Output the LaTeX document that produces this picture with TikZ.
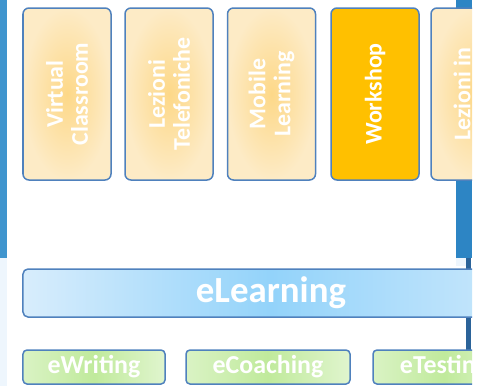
\documentclass[tikz,border=0pt]{standalone}
\usepackage{fontspec}
\setmainfont{Carlito}
\usepackage{xcolor}

\definecolor{frameblue}{HTML}{4F81BD}
\definecolor{stripblue}{HTML}{3F95CE}
\definecolor{stripdark}{HTML}{2D85C4}
\definecolor{scrollblue}{HTML}{2B6399}
\definecolor{paleblue}{HTML}{EEF6FD}
\definecolor{creamout}{HTML}{FDEBC6}
\definecolor{creamin}{HTML}{FDD888}
\definecolor{gold}{HTML}{FFC000}
\definecolor{skyedge}{HTML}{D8EDFC}
\definecolor{skymid}{HTML}{93D3FA}
\definecolor{leafedge}{HTML}{E0F5CE}
\definecolor{leafmid}{HTML}{C0EA9C}

\tikzset{
  coursebox/.style={draw=frameblue, line width=1.5bp, rounded corners=6bp,
    shading=radial, inner color=creamin, outer color=creamout,
    rotate=90, minimum width=172bp, minimum height=88bp, inner sep=0pt,
    text=white, align=center, font=\bfseries\fontsize{24}{25}\selectfont},
  goldbox/.style={coursebox, shading=axis, top color=gold, bottom color=gold},
  vlabel/.style={rotate=90, text=white, align=center, inner sep=0pt,
    font=\bfseries\fontsize{24}{25}\selectfont},
  barbox/.style={draw=frameblue, line width=1.5bp, rounded corners=5bp,
    left color=skyedge, right color=skyedge!80!skymid, middle color=skymid,
    minimum width=496bp, minimum height=48bp, inner sep=0pt,
    text=white, font=\bfseries\fontsize{37}{40}\selectfont},
  toolbox/.style={draw=frameblue, line width=1.5bp, rounded corners=4bp,
    left color=leafedge!80!leafmid, right color=leafedge, middle color=leafmid,
    minimum height=34bp, inner sep=0pt,
    text=white, font=\bfseries\fontsize{26}{28}\selectfont}
}

\begin{document}
\begin{tikzpicture}[x=1bp,y=1bp,yscale=-1,xscale=1]
\useasboundingbox (0,0) rectangle (477,386);

%Shape: side strips
\fill [stripblue] (0,0) rectangle (7,258);
\fill [paleblue] (0,258) rectangle (7,386);
\fill [stripdark] (456,0) rectangle (472,258);
\fill [paleblue] (456,258) rectangle (466,266);
\fill [scrollblue] (466,258) rectangle (471,350);

\begin{scope}
\clip (0,0) rectangle (472,386);

% Course boxes
\node [coursebox] (virtual) at (67,94) {Virtual\\Classroom};
\node [coursebox] (telefoniche) at (169,94) {Lezioni\\Telefoniche};
\node [coursebox] (mobile) at (271.5,94) {Mobile\\Learning};
\node [goldbox] (workshop) at (375,94) {Workshop};
\node [coursebox] (aula) at (475,94) {};
\node [vlabel] (aulatext) at (462,94) {Lezioni in};

% eLearning bar
\node [barbox] (elearning) at (271,293) {eLearning};

% Tool boxes
\node [toolbox, minimum width=142bp] (ewriting) at (94,367) {eWriting};
\node [toolbox, minimum width=164bp] (ecoaching) at (268,367) {eCoaching};
\node [toolbox, minimum width=142bp] (etesting) at (444,367) {eTesting};
\end{scope}

\end{tikzpicture}
\end{document}
